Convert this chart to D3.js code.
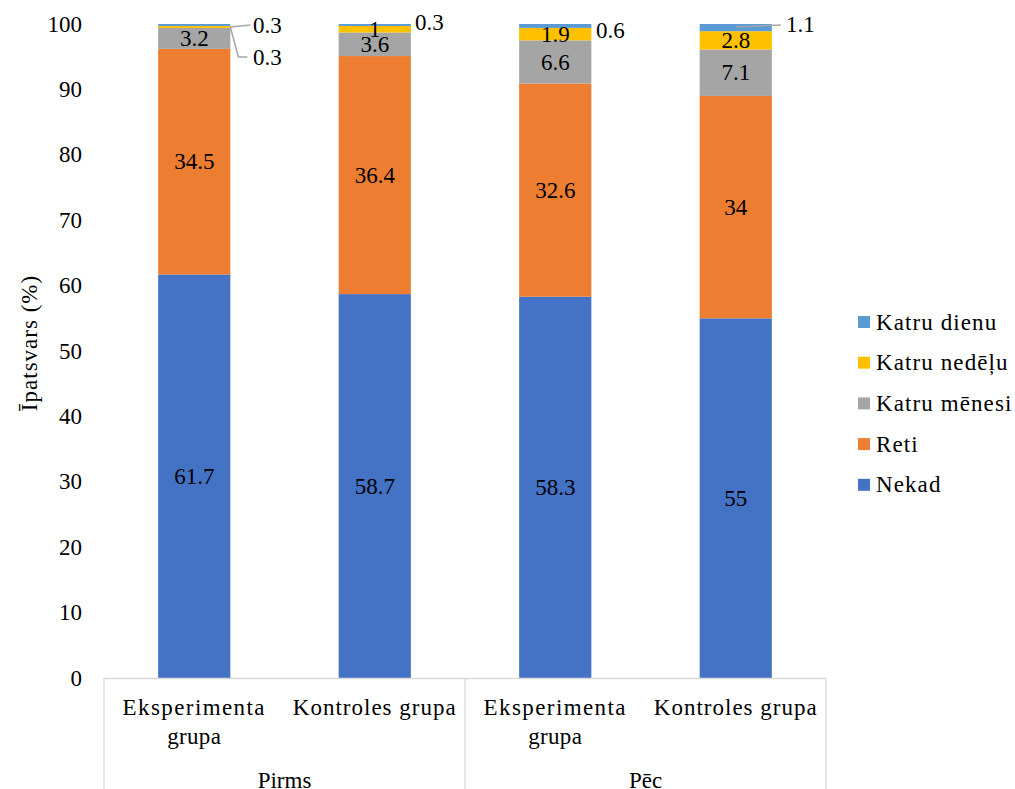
<!DOCTYPE html>
<html><head><meta charset="utf-8">
<script src="https://cdn.jsdelivr.net/npm/d3@7"></script>
<style>
html,body{margin:0;padding:0;background:#fff;}
</style></head>
<body><svg id="c" width="1015" height="789"></svg>
<script>
const groups = ["Pirms", "Pirms", "Pēc", "Pēc"];
const categories = ["Eksperimenta grupa", "Kontroles grupa", "Eksperimenta grupa", "Kontroles grupa"];
const seriesNames = ["Nekad", "Reti", "Katru mēnesi", "Katru nedēļu", "Katru dienu"];
const nekad = [61.7, 58.7, 58.3, 55];
const reti = [34.5, 36.4, 32.6, 34];
const katruMenesi = [3.2, 3.6, 6.6, 7.1];
const katruNedelu = [0.3, 1, 1.9, 2.8];
const katruDienu = [0.3, 0.3, 0.6, 1.1];
const yTicks = [0, 10, 20, 30, 40, 50, 60, 70, 80, 90, 100];

const colors = ["#4472C4", "#ED7D31", "#A5A5A5", "#FFC000", "#5B9BD5"];
const seriesVals = [nekad, reti, katruMenesi, katruNedelu, katruDienu];

const svg = d3.select("#c");
const pLeft = 104, pRight = 826, pTop = 24, pBottom = 678;
const fs = 23;
function txt(sel) {
  return sel.append("text").style("font-family", "'Liberation Serif'").attr("font-size", fs).attr("fill", "#000");
}

const x = d3.scaleBand().domain(d3.range(categories.length)).range([pLeft, pRight]).paddingInner(0.6).paddingOuter(0.3);
const y = d3.scaleLinear().domain([0, 100]).range([pBottom, pTop]);

const rows = categories.map((c, i) => {
  const o = {i};
  seriesNames.forEach((s, k) => o[s] = seriesVals[k][i]);
  return o;
});
const stack = d3.stack().keys(seriesNames)(rows);

// y tick labels
const gy = svg.append("g");
yTicks.forEach(d => {
  txt(gy).attr("x", 82).attr("y", y(d)).attr("dy", "0.33em").attr("text-anchor", "end").text(d);
});

// y title
txt(svg).attr("transform", `translate(37,343) rotate(-90)`)
  .attr("text-anchor", "middle").attr("letter-spacing", 1).text("Īpatsvars (%)");

// bars
const gBars = svg.append("g");
stack.forEach((layer, k) => {
  gBars.append("g").attr("fill", colors[k]).selectAll("rect").data(layer).join("rect")
    .attr("x", (d, i) => x(i)).attr("width", x.bandwidth())
    .attr("y", d => y(d[1])).attr("height", d => y(d[0]) - y(d[1]));
});

// axis lines
const axisColor = "#d9d9d9";
svg.append("line").attr("x1", pLeft).attr("x2", pRight).attr("y1", pBottom + 0.5).attr("y2", pBottom + 0.5)
  .attr("stroke", axisColor).attr("stroke-width", 1.3);
const step = x.step();
const groupEdges = [pLeft, pLeft + 2 * step, pRight];
groupEdges.forEach(xx => {
  svg.append("line").attr("x1", xx).attr("x2", xx).attr("y1", pBottom).attr("y2", 789)
    .attr("stroke", axisColor).attr("stroke-width", 1.3);
});

// category labels
categories.forEach((c, i) => {
  const cx = x(i) + x.bandwidth() / 2;
  const t = txt(svg).attr("x", cx).attr("y", 715).attr("text-anchor", "middle");
  if (c === "Eksperimenta grupa") {
    t.append("tspan").attr("x", cx).attr("dy", 0).attr("letter-spacing", 1.4).text("Eksperimenta");
    t.append("tspan").attr("x", cx).attr("dy", 29).attr("letter-spacing", 0.3).text("grupa");
  } else {
    t.attr("letter-spacing", 1.0).text(c);
  }
});
// group labels
["Pirms", "Pēc"].forEach((g, j) => {
  txt(svg).attr("x", (groupEdges[j] + groupEdges[j + 1]) / 2).attr("y", 788)
    .attr("text-anchor", "middle").text(g);
});

// data labels
const leader = "#a6a6a6";
const overrides = {
  "4-0": {lx: 253, ly: 25, line: [[0, 0], [20, -2]]},
  "3-0": {lx: 253, ly: 57, line: [[0, 0], [8, 30], [17, 30]]},
  "4-1": {lx: 415, ly: 22},
  "4-2": {lx: 596, ly: 30},
  "4-3": {lx: 786, ly: 24, line: [[-36, 0], [9, -2]]}
};
const gLab = svg.append("g");
stack.forEach((layer, k) => {
  layer.forEach((d, i) => {
    const v = seriesVals[k][i];
    const key = k + "-" + i;
    const mid = (y(d[0]) + y(d[1])) / 2;
    const ov = overrides[key];
    if (ov) {
      const barR = x(i) + x.bandwidth();
      if (ov.line) {
        const pts = ov.line.map(p => [barR + p[0], y(100) + 3 + p[1]]);
        gLab.append("path").attr("d", d3.line()(pts)).attr("fill", "none").attr("stroke", leader).attr("stroke-width", 1.5);
      }
      txt(gLab).attr("x", ov.lx).attr("y", ov.ly).attr("dy", "0.33em").text(v);
    } else {
      txt(gLab).attr("x", x(i) + x.bandwidth() / 2).attr("y", mid).attr("dy", "0.33em")
        .attr("text-anchor", "middle").text(v);
    }
  });
});

// legend
const legendOrder = [4, 3, 2, 1, 0];
const lg = svg.append("g");
legendOrder.forEach((k, j) => {
  const ly = 322 + j * 40.7;
  lg.append("rect").attr("x", 858).attr("y", ly - 6).attr("width", 12).attr("height", 12).attr("fill", colors[k]);
  txt(lg).attr("x", 876).attr("y", ly).attr("dy", "0.33em").attr("letter-spacing", 1.1).text(seriesNames[k]);
});
</script></body></html>
